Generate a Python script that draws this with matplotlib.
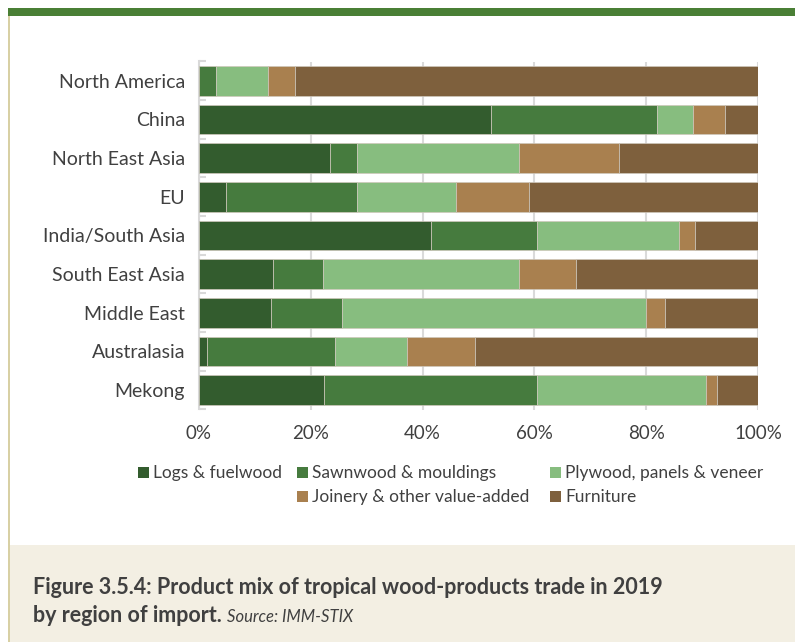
import matplotlib
matplotlib.use("Agg")
import matplotlib.pyplot as plt
from matplotlib.patches import Rectangle
import numpy as np

plt.rcParams['font.family'] = ['Lato', 'DejaVu Sans']

regions = ["North America", "China", "North East Asia", "EU", "India/South Asia",
           "South East Asia", "Middle East", "Australasia", "Mekong"]
series_names = ["Logs & fuelwood", "Sawnwood & mouldings", "Plywood, panels & veneer",
                "Joinery & other value-added", "Furniture"]
logs      = [0.0, 52.2, 23.5, 4.9, 41.5, 13.3, 12.8, 1.5, 22.4]
sawnwood  = [3.1, 29.7, 4.8, 23.4, 19.0, 8.8, 12.7, 22.9, 38.1]
plywood   = [9.2, 6.4, 28.9, 17.7, 25.3, 35.1, 54.5, 12.8, 30.2]
joinery   = [4.9, 5.8, 18.0, 13.1, 2.9, 10.2, 3.4, 12.1, 2.0]
furniture = [82.8, 5.9, 24.8, 40.9, 11.3, 32.6, 16.6, 50.7, 7.3]
xticks = [0, 20, 40, 60, 80, 100]
xticklabels = ["0%", "20%", "40%", "60%", "80%", "100%"]
caption_bold_1 = "Figure 3.5.4: Product mix of tropical wood-products trade in 2019"
caption_bold_2 = "by region of import."
caption_source = "Source: IMM-STIX"

colors = ["#335C2E", "#467B3E", "#87BD7F", "#A9804F", "#7E603D"]

W, H = 795, 642
fig = plt.figure(figsize=(W / 100, H / 100), dpi=100)
fig.patch.set_facecolor("white")

# decorations
fig.add_artist(Rectangle((8 / W, 1 - 16 / H), 1, 8 / H, transform=fig.transFigure,
                         facecolor="#4A7F35", edgecolor="none"))
fig.add_artist(Rectangle((8 / W, 0), 1, (H - 545) / H, transform=fig.transFigure,
                         facecolor="#F3EFE3", edgecolor="none"))
fig.add_artist(Rectangle((8 / W, 0), 2 / W, (H - 16) / H, transform=fig.transFigure,
                         facecolor="#D8D0A4", edgecolor="none"))

ax = fig.add_axes([199 / W, 1 - 409.5 / H, 559 / W, 348 / H])
ax.set_facecolor("none")

data = [logs, sawnwood, plywood, joinery, furniture]
y = np.arange(len(regions))
left = np.zeros(len(regions))
for vals, c, name in zip(data, colors, series_names):
    v = np.array(vals)
    ax.barh(y, v, left=left, height=0.76, color=c, edgecolor="#cfc8bc",
            linewidth=0.5, label=name, zorder=3)
    left += v

ax.set_xlim(0, 100)
ax.set_ylim(len(regions) - 0.5, -0.5)
ax.set_yticks(y)
ax.set_yticklabels(regions, fontsize=14, color="#404040")
ax.set_xticks(xticks)
ax.set_xticklabels(xticklabels, fontsize=13.5, color="#404040")
ax.tick_params(axis="y", length=0, pad=10)
ax.tick_params(axis="x", length=0, pad=11)
ax.set_yticks(np.arange(len(regions) + 1) - 0.5, minor=True)
ax.tick_params(axis="y", which="minor", direction="in", length=5, width=1.5, color="#D9D9D9")
ax.grid(axis="x", color="#DADADA", linewidth=1.5, zorder=0)
for s in ["top", "right", "bottom"]:
    ax.spines[s].set_visible(False)
ax.spines["left"].set_color("#D9D9D9")
ax.spines["left"].set_linewidth(1.5)

# legend (manual placement)
legend_pos = [(138, 473), (297, 473), (550, 473), (297, 497), (550, 497)]
for (px, py), c, name in zip(legend_pos, colors, series_names):
    fig.add_artist(Rectangle((px / W, 1 - (py + 5) / H), 11 / W, 11 / H,
                             transform=fig.transFigure, facecolor=c, edgecolor="none"))
    fig.text((px + 15) / W, 1 - py / H, name, fontsize=12.5, color="#404040",
             va="center", ha="left")

# caption
fig.text(33 / W, 1 - 587 / H, caption_bold_1, fontsize=15.5, fontweight="bold",
         color="#404040", va="center", ha="left")
t = fig.text(33 / W, 1 - 616 / H, caption_bold_2, fontsize=15.5, fontweight="bold",
             color="#404040", va="center", ha="left")
fig.canvas.draw()
bb = t.get_window_extent()
fig.text((bb.x1 + 5) / W, 1 - 617 / H, caption_source, fontsize=12, style="italic",
         color="#404040", va="center", ha="left")

fig.savefig("out.png", dpi=100)
